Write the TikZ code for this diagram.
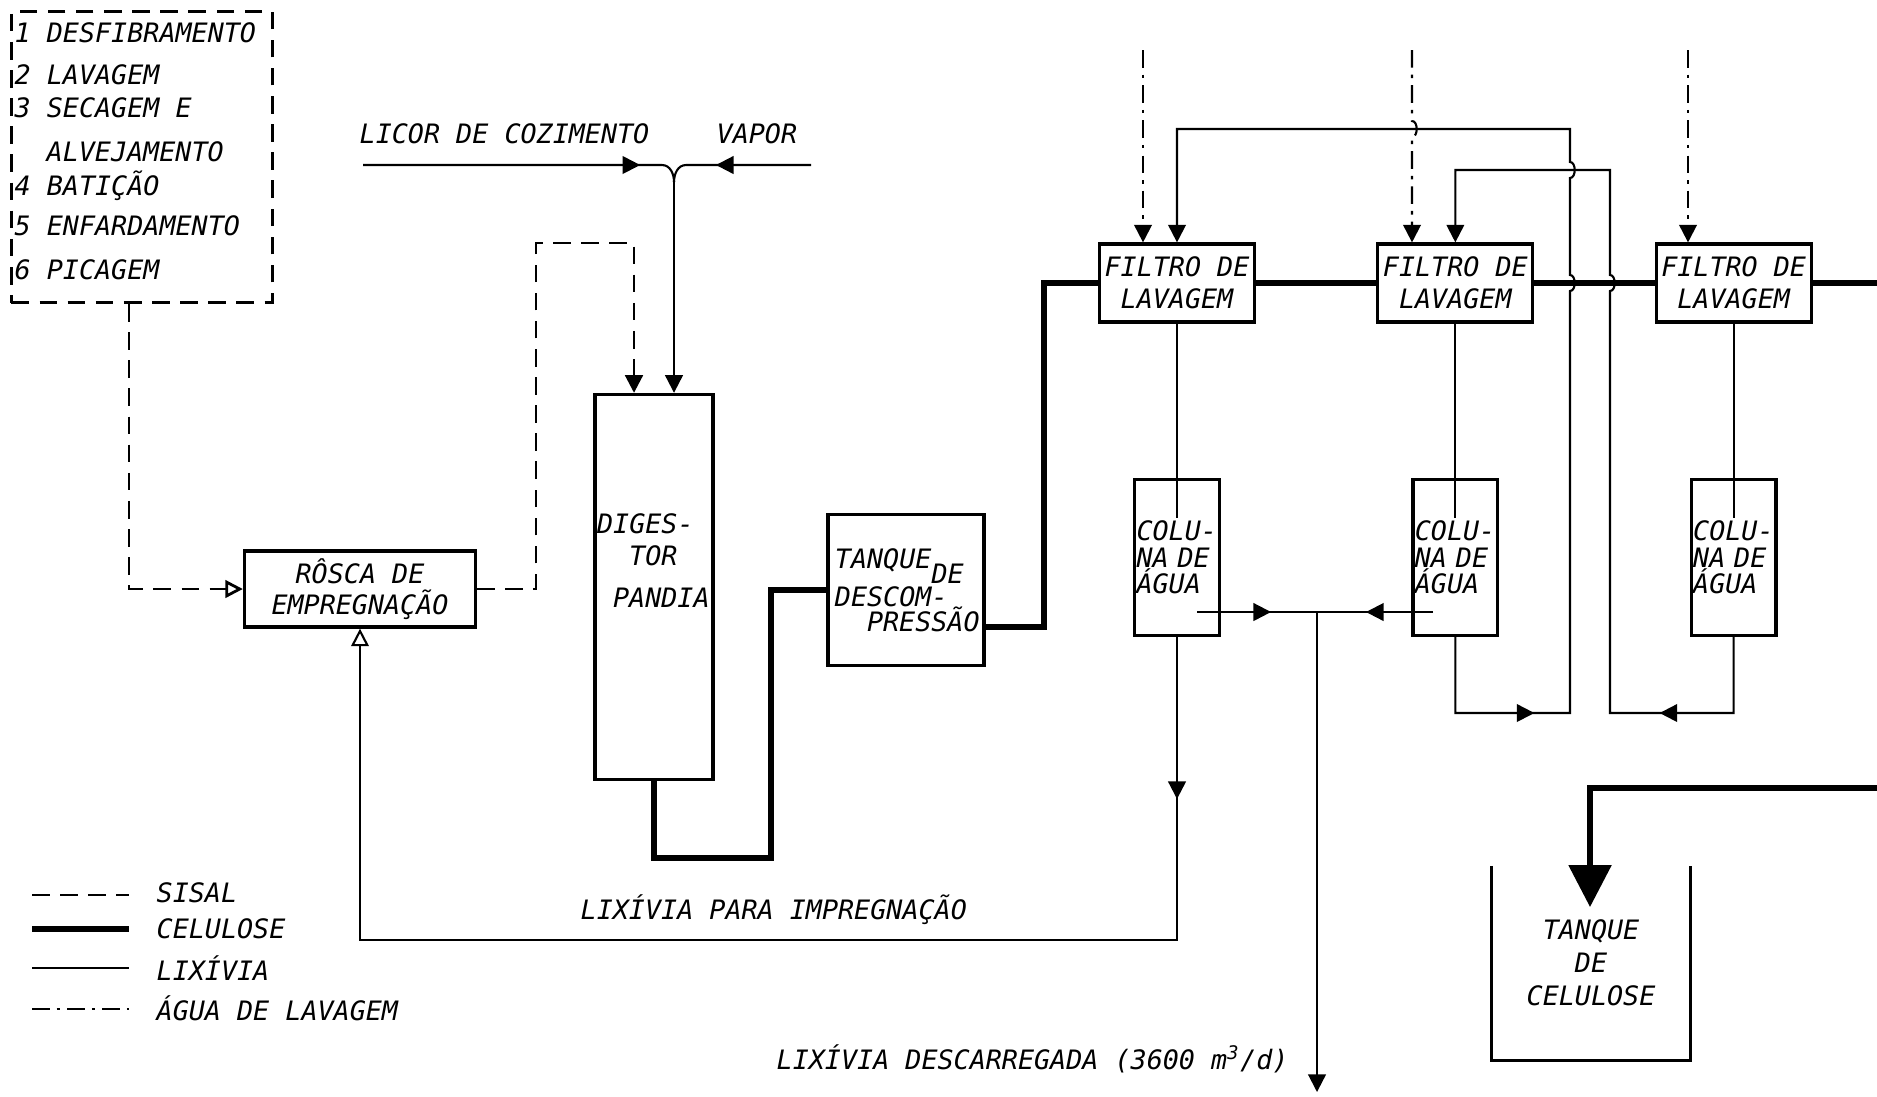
\documentclass[tikz,border=0pt]{standalone}
\usepackage{fontspec}
\setmonofont{DejaVu Sans Mono}
\usetikzlibrary{arrows.meta,positioning,calc,decorations.markings}
\tikzset{
  caixa/.style={draw, line width=0.9pt, inner sep=1pt, align=center},
  filtro/.style={caixa, minimum width=1.55cm, minimum height=0.78cm},
  coluna/.style={caixa, minimum width=0.82cm, minimum height=1.56cm, text width=0.81cm, inner sep=0.5pt, align=left, font=\ttfamily\itshape\fontsize{7.6pt}{7.6pt}\selectfont},
  caixasisal/.style={draw, line width=0.8pt, dash pattern=on 5pt off 3pt},
  parede/.style={line width=0.9pt},
  sisal/.style={line width=0.8pt, dash pattern=on 5pt off 3pt},
  celulose/.style={line width=1.6pt},
  lixivia/.style={line width=0.6pt},
  agua/.style={line width=0.6pt, dash pattern=on 5pt off 2pt on 1pt off 2pt},
  rotulo/.style={anchor=west, inner sep=0pt},
  ponta/.style={-{Triangle[length=5pt,width=5pt]}},
  flow/.style={postaction={decorate}, decoration={markings, mark=at position #1 with {\arrow{Triangle[length=5pt,width=5pt]}}}}
}
\begin{document}
\begin{tikzpicture}[x=0.01cm, y=-0.01cm, font=\ttfamily\itshape\fontsize{7.6pt}{9pt}\selectfont]
  \useasboundingbox (0,0) rectangle (1877,1096);

  % etapas do sisal
  \node[caixasisal, minimum width=2.61cm, minimum height=2.91cm] (etapas) at (142,157) {};
  \node[rotulo] (e1) at (14,33) {1 DESFIBRAMENTO};
  \node[rotulo] (e2) at (14,75) {2 LAVAGEM};
  \node[rotulo] (e3) at (14,108) {3 SECAGEM E};
  \node[rotulo] (e3b) at (46,152) {ALVEJAMENTO};
  \node[rotulo] (e4) at (14,186) {4 BATIÇÃO};
  \node[rotulo] (e5) at (14,226) {5 ENFARDAMENTO};
  \node[rotulo] (e6) at (14,270) {6 PICAGEM};

  % equipamentos
  \node[caixa, minimum width=2.31cm, minimum height=0.76cm] (rosca) at (360,589) {RÔSCA DE\\EMPREGNAÇÃO};
  \node[caixa, minimum width=1.18cm, minimum height=3.85cm] (digestor) at (654,587) {};
  \node[anchor=north west, inner sep=0pt, align=left] (digtxt) at ([shift={(3,120)}]digestor.north west) {DIGES-\\\hspace*{1.2em}TOR\\[3pt]\hspace*{0.6em}PANDIA};
  \node[caixa, minimum width=1.56cm, minimum height=1.51cm, text width=1.42cm, align=left] (tanque) at (906,590) {TANQUE\raisebox{-1ex}{DE}\\[0pt]DESCOM-\\[-2pt]\hspace*{1.2em}PRESSÃO\\[12pt]};
  \node[filtro] (filtro1) at (1177,283) {FILTRO DE\\LAVAGEM};
  \node[filtro, right=1.2cm of filtro1] (filtro2) {FILTRO DE\\LAVAGEM};
  \node[filtro, right=1.2cm of filtro2] (filtro3) {FILTRO DE\\LAVAGEM};
  \node[coluna, below=1.54cm of filtro1] (col1) {COLU-\\NA DE\\ÁGUA};
  \node[coluna, below=1.54cm of filtro2] (col2) {COLU-\\NA DE\\ÁGUA};
  \node[coluna, below=1.54cm of filtro3] (col3) {COLU-\\NA DE\\ÁGUA};
  \node[align=center, minimum width=1.98cm, minimum height=1.93cm, inner sep=0pt, font=\ttfamily\itshape\fontsize{7.6pt}{9.4pt}\selectfont] (tanquecel) at (1591,963) {TANQUE\\DE\\CELULOSE};
  \draw[parede] (tanquecel.north west) |- (tanquecel.south east) -- (tanquecel.north east);

  % textos
  \node[rotulo] (licortxt) at (359,134) {LICOR DE COZIMENTO};
  \node[rotulo] (vaportxt) at (716,134) {VAPOR};
  \node[rotulo] (imptxt) at (580,910) {LIXÍVIA PARA IMPREGNAÇÃO};
  \node[rotulo] (desctxt) at (776,1059) {LIXÍVIA DESCARREGADA (3600 m\textsuperscript{3}/d)};

  % pontos livres
  \coordinate (licor) at (363,165);
  \coordinate (vapor) at (811,165);
  \coordinate (juncao) at (674,182);
  \coordinate (agua1) at (1143,50);
  \coordinate (agua2) at (1412,50);
  \coordinate (agua3) at (1688,50);
  \coordinate (saidacel) at (1877,283);
  \coordinate (retornocel) at (1877,788);
  \coordinate (entradacel) at (1590,907);
  \coordinate (saida1) at (1197,612);
  \coordinate (saida2) at (1433,612);
  \coordinate (junta) at (1317,612);
  \coordinate (descarga) at (1317,1092);

  % licor e vapor
  \draw[lixivia, flow=2.77cm] (licor) -- (662,165) to[out=0,in=90] (juncao);
  \draw[lixivia, flow=0.95cm] (vapor) -- (686,165) to[out=180,in=90] (juncao);
  \draw[lixivia, ponta] (juncao) -- (juncao |- digestor.north);

  % sisal
  \draw[sisal, -{Triangle[open,length=5pt,width=5pt]}] (etapas.south -| 129,0) |- (rosca.west);
  \draw[sisal, ponta] (rosca.east) -| (536,243) -| (digestor.north -| 634,0);

  % celulose
  \draw[celulose] (digestor.south) |- (771,858) |- (tanque.west);
  \draw[celulose] (tanque.-25) -| (1044,283) -- (filtro1.west);
  \draw[celulose] (filtro1.east) -- (filtro2.west);
  \draw[celulose] (filtro2.east) -- (filtro3.west);
  \draw[celulose] (filtro3.east) -- (saidacel);
  \draw[celulose, -{Triangle[length=0.42cm,width=0.42cm]}] (retornocel) -| (entradacel);

  % agua de lavagem
  \draw[agua, ponta] (agua1) -- (agua1 |- filtro1.north);
  \draw[agua, ponta] (agua2) -- (1412,121) to[out=0,in=0] (1412,137) -- (agua2 |- filtro2.north);
  \draw[agua, ponta] (agua3) -- (agua3 |- filtro3.north);

  % lixivia
  \draw[lixivia] (filtro1.south) -- ($(col1.north)+(0,40)$);
  \draw[lixivia] (filtro2.south) -- ($(col2.north)+(0,40)$);
  \draw[lixivia] (filtro3.south) -- ($(col3.north)+(0,40)$);
  \draw[lixivia, flow=1.62cm, -{Triangle[open,length=5pt,width=5pt]}] (col1.south) -- (1177,940) -| (rosca.south);
  \draw[lixivia, flow=0.74cm] (saida1) -- (junta);
  \draw[lixivia, flow=0.67cm] (saida2) -- (junta);
  \draw[lixivia, ponta] (junta) -- (descarga);
  \draw[lixivia, flow=1.55cm, ponta] (col2.south) |- (1570,713) -- (1570,291) to[out=0,in=0] (1570,275) -- (1570,178) to[out=0,in=0] (1570,162) -- (1570,129) -| (filtro1.north);
  \draw[lixivia, flow=1.50cm, ponta] (col3.south) |- (1610,713) -- (1610,291) to[out=0,in=0] (1610,275) -- (1610,170) -| (filtro2.north);

  % legenda
  \draw[sisal] (32,895) -- (129,895);
  \node[rotulo] (lsisal) at (156,893) {SISAL};
  \draw[celulose] (32,929) -- (129,929);
  \node[rotulo] (lcel) at (156,929) {CELULOSE};
  \draw[lixivia] (32,968) -- (129,968);
  \node[rotulo] (llix) at (156,968) {LIXÍVIA};
  \draw[agua] (32,1009) -- (129,1009);
  \node[rotulo] (lagua) at (156,1008) {ÁGUA DE LAVAGEM};
\end{tikzpicture}
\end{document}
